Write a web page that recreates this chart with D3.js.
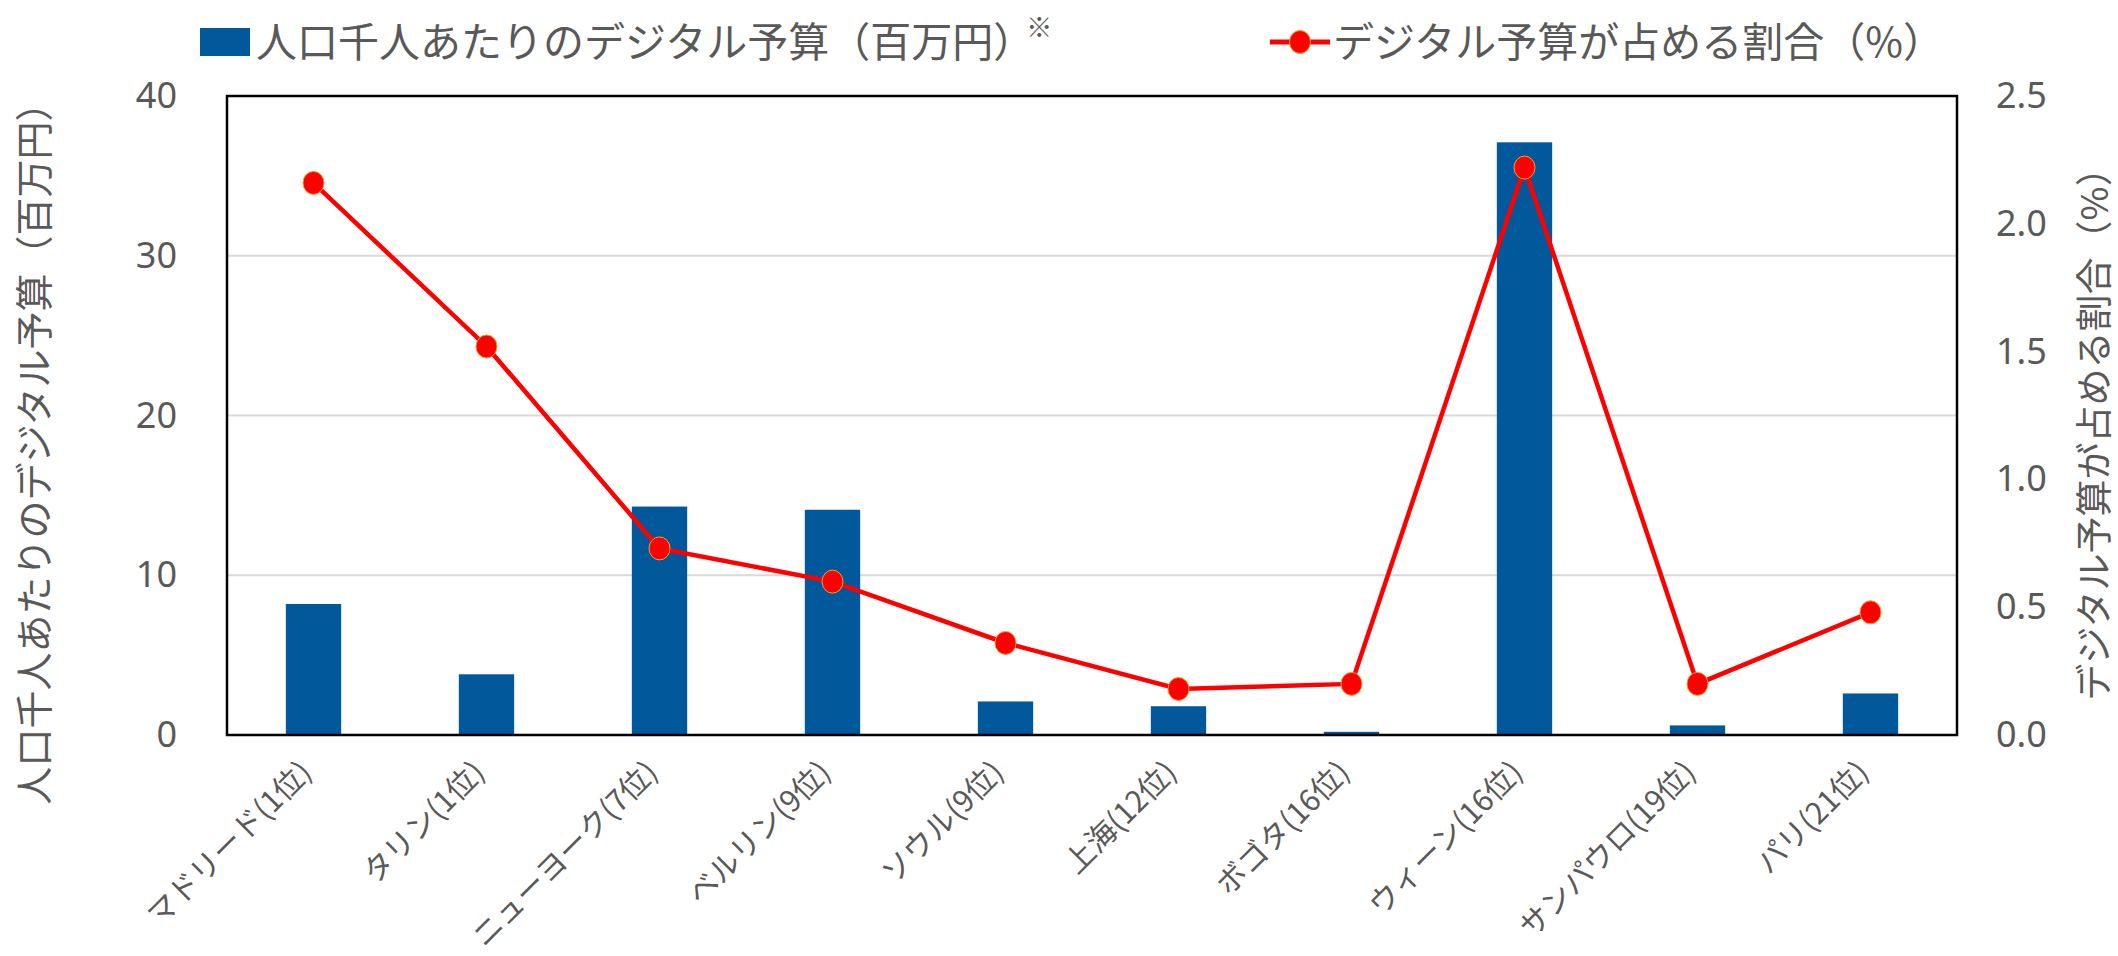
<!DOCTYPE html>
<html>
<head>
<meta charset="utf-8">
<script src="https://cdn.jsdelivr.net/npm/d3@7"></script>
<style>
  body { margin: 0; background: #fff; }
  text { font-family: "Noto Sans CJK JP", "Noto Sans", sans-serif; fill: #595959; }
  .num { font-family: "Noto Sans", "Open Sans", sans-serif; }
</style>
</head>
<body>
<div id="chart"></div>
<script>
// data
var cities = ["マドリード(1位)", "タリン(1位)", "ニューヨーク(7位)", "ベルリン(9位)", "ソウル(9位)",
              "上海(12位)", "ボゴタ(16位)", "ウィーン(16位)", "サンパウロ(19位)", "パリ(21位)"];
var budgetPerThousand = [8.2, 3.8, 14.3, 14.1, 2.1, 1.8, 0.2, 37.1, 0.6, 2.6];
var budgetShare = [2.16, 1.52, 0.73, 0.60, 0.36, 0.18, 0.20, 2.22, 0.20, 0.48];
var leftTicks = [0, 10, 20, 30, 40];
var rightTicks = [0, 0.5, 1.0, 1.5, 2.0, 2.5];

var barLabel = "人口千人あたりのデジタル予算（百万円）";
var lineLabel = "デジタル予算が占める割合（%）";

var width = 2118, height = 956;
var plotLeft = 227, plotRight = 1957, plotTop = 96, plotBottom = 735;

var barColor = "#01589b";
var lineColor = "#ff0000";

var svg = d3.select("#chart").append("svg")
  .attr("width", width)
  .attr("height", height);

var x = d3.scaleBand().domain(cities).range([plotLeft, plotRight]).paddingInner(0.68).paddingOuter(0.34);
var yL = d3.scaleLinear().domain([0, 40]).range([plotBottom, plotTop]);
var yR = d3.scaleLinear().domain([0, 2.5]).range([plotBottom, plotTop]);

// gridlines
svg.append("g")
  .selectAll("line")
  .data(leftTicks.filter(function(t) { return t > 0 && t < 40; }))
  .enter().append("line")
  .attr("x1", plotLeft).attr("x2", plotRight)
  .attr("y1", function(d) { return yL(d); })
  .attr("y2", function(d) { return yL(d); })
  .attr("stroke", "#d9d9d9")
  .attr("stroke-width", 2);

// bars
svg.append("g")
  .selectAll("rect")
  .data(cities)
  .enter().append("rect")
  .attr("x", function(d) { return x(d); })
  .attr("width", x.bandwidth())
  .attr("y", function(d, i) { return yL(budgetPerThousand[i]); })
  .attr("height", function(d, i) { return plotBottom - yL(budgetPerThousand[i]); })
  .attr("fill", barColor);

// plot frame
svg.append("rect")
  .attr("x", plotLeft).attr("y", plotTop)
  .attr("width", plotRight - plotLeft).attr("height", plotBottom - plotTop)
  .attr("fill", "none")
  .attr("stroke", "#000")
  .attr("stroke-width", 2.5);

// line
var line = d3.line()
  .x(function(d, i) { return x(cities[i]) + x.bandwidth() / 2; })
  .y(function(d) { return yR(d); });

svg.append("path")
  .datum(budgetShare)
  .attr("d", line)
  .attr("fill", "none")
  .attr("stroke", lineColor)
  .attr("stroke-width", 4.5);

svg.append("g")
  .selectAll("ellipse")
  .data(budgetShare)
  .enter().append("ellipse")
  .attr("cx", function(d, i) { return x(cities[i]) + x.bandwidth() / 2; })
  .attr("cy", function(d) { return yR(d); })
  .attr("rx", 10.5)
  .attr("ry", 11.5)
  .attr("fill", lineColor)
  .attr("stroke", "#f0a030")
  .attr("stroke-width", 1);

// left axis
var axL = svg.append("g")
  .attr("transform", "translate(" + (plotLeft - 50) + ",0)")
  .call(d3.axisLeft(yL).tickValues(leftTicks).tickSize(0).tickPadding(0));
axL.select(".domain").remove();
axL.selectAll("text").attr("class", "num").style("font-size", "36px").attr("fill", "#595959");

// right axis
var axR = svg.append("g")
  .attr("transform", "translate(" + (plotRight + 39) + ",0)")
  .call(d3.axisRight(yR).tickValues(rightTicks).tickFormat(d3.format(".1f")).tickSize(0).tickPadding(0));
axR.select(".domain").remove();
axR.selectAll("text").attr("class", "num").style("font-size", "36px").attr("fill", "#595959");

// x labels
svg.append("g")
  .selectAll("text")
  .data(cities)
  .enter().append("text")
  .attr("transform", function(d) {
    return "translate(" + (x(d) + x.bandwidth() / 2) + "," + 774 + ") rotate(-45)";
  })
  .attr("text-anchor", "end")
  .style("font-size", "30px")
  .text(function(d) { return d; });

// axis titles
svg.append("text")
  .attr("transform", "translate(48,444) rotate(-90)")
  .attr("text-anchor", "middle")
  .style("font-size", "38px")
  .text(barLabel);

svg.append("text")
  .attr("transform", "translate(2108,425) rotate(-90)")
  .attr("text-anchor", "middle")
  .style("font-size", "37px")
  .text(lineLabel);

// legend
var legend = svg.append("g");
legend.append("rect")
  .attr("x", 200).attr("y", 28)
  .attr("width", 50).attr("height", 28)
  .attr("fill", barColor);
var lt = legend.append("text")
  .attr("x", 256).attr("y", 57)
  .style("font-size", "41px")
  .text(barLabel);
lt.append("tspan")
  .attr("dx", -8)
  .attr("dy", -20)
  .style("font-size", "26px")
  .text("※");

legend.append("line")
  .attr("x1", 1270).attr("x2", 1330)
  .attr("y1", 42).attr("y2", 42)
  .attr("stroke", lineColor)
  .attr("stroke-width", 5);
legend.append("ellipse")
  .attr("cx", 1300).attr("cy", 42)
  .attr("rx", 10.5).attr("ry", 11.5)
  .attr("fill", lineColor)
  .attr("stroke", "#f0a030")
  .attr("stroke-width", 1);
legend.append("text")
  .attr("x", 1333).attr("y", 57)
  .style("font-size", "41px")
  .text(lineLabel);
</script>
</body>
</html>
